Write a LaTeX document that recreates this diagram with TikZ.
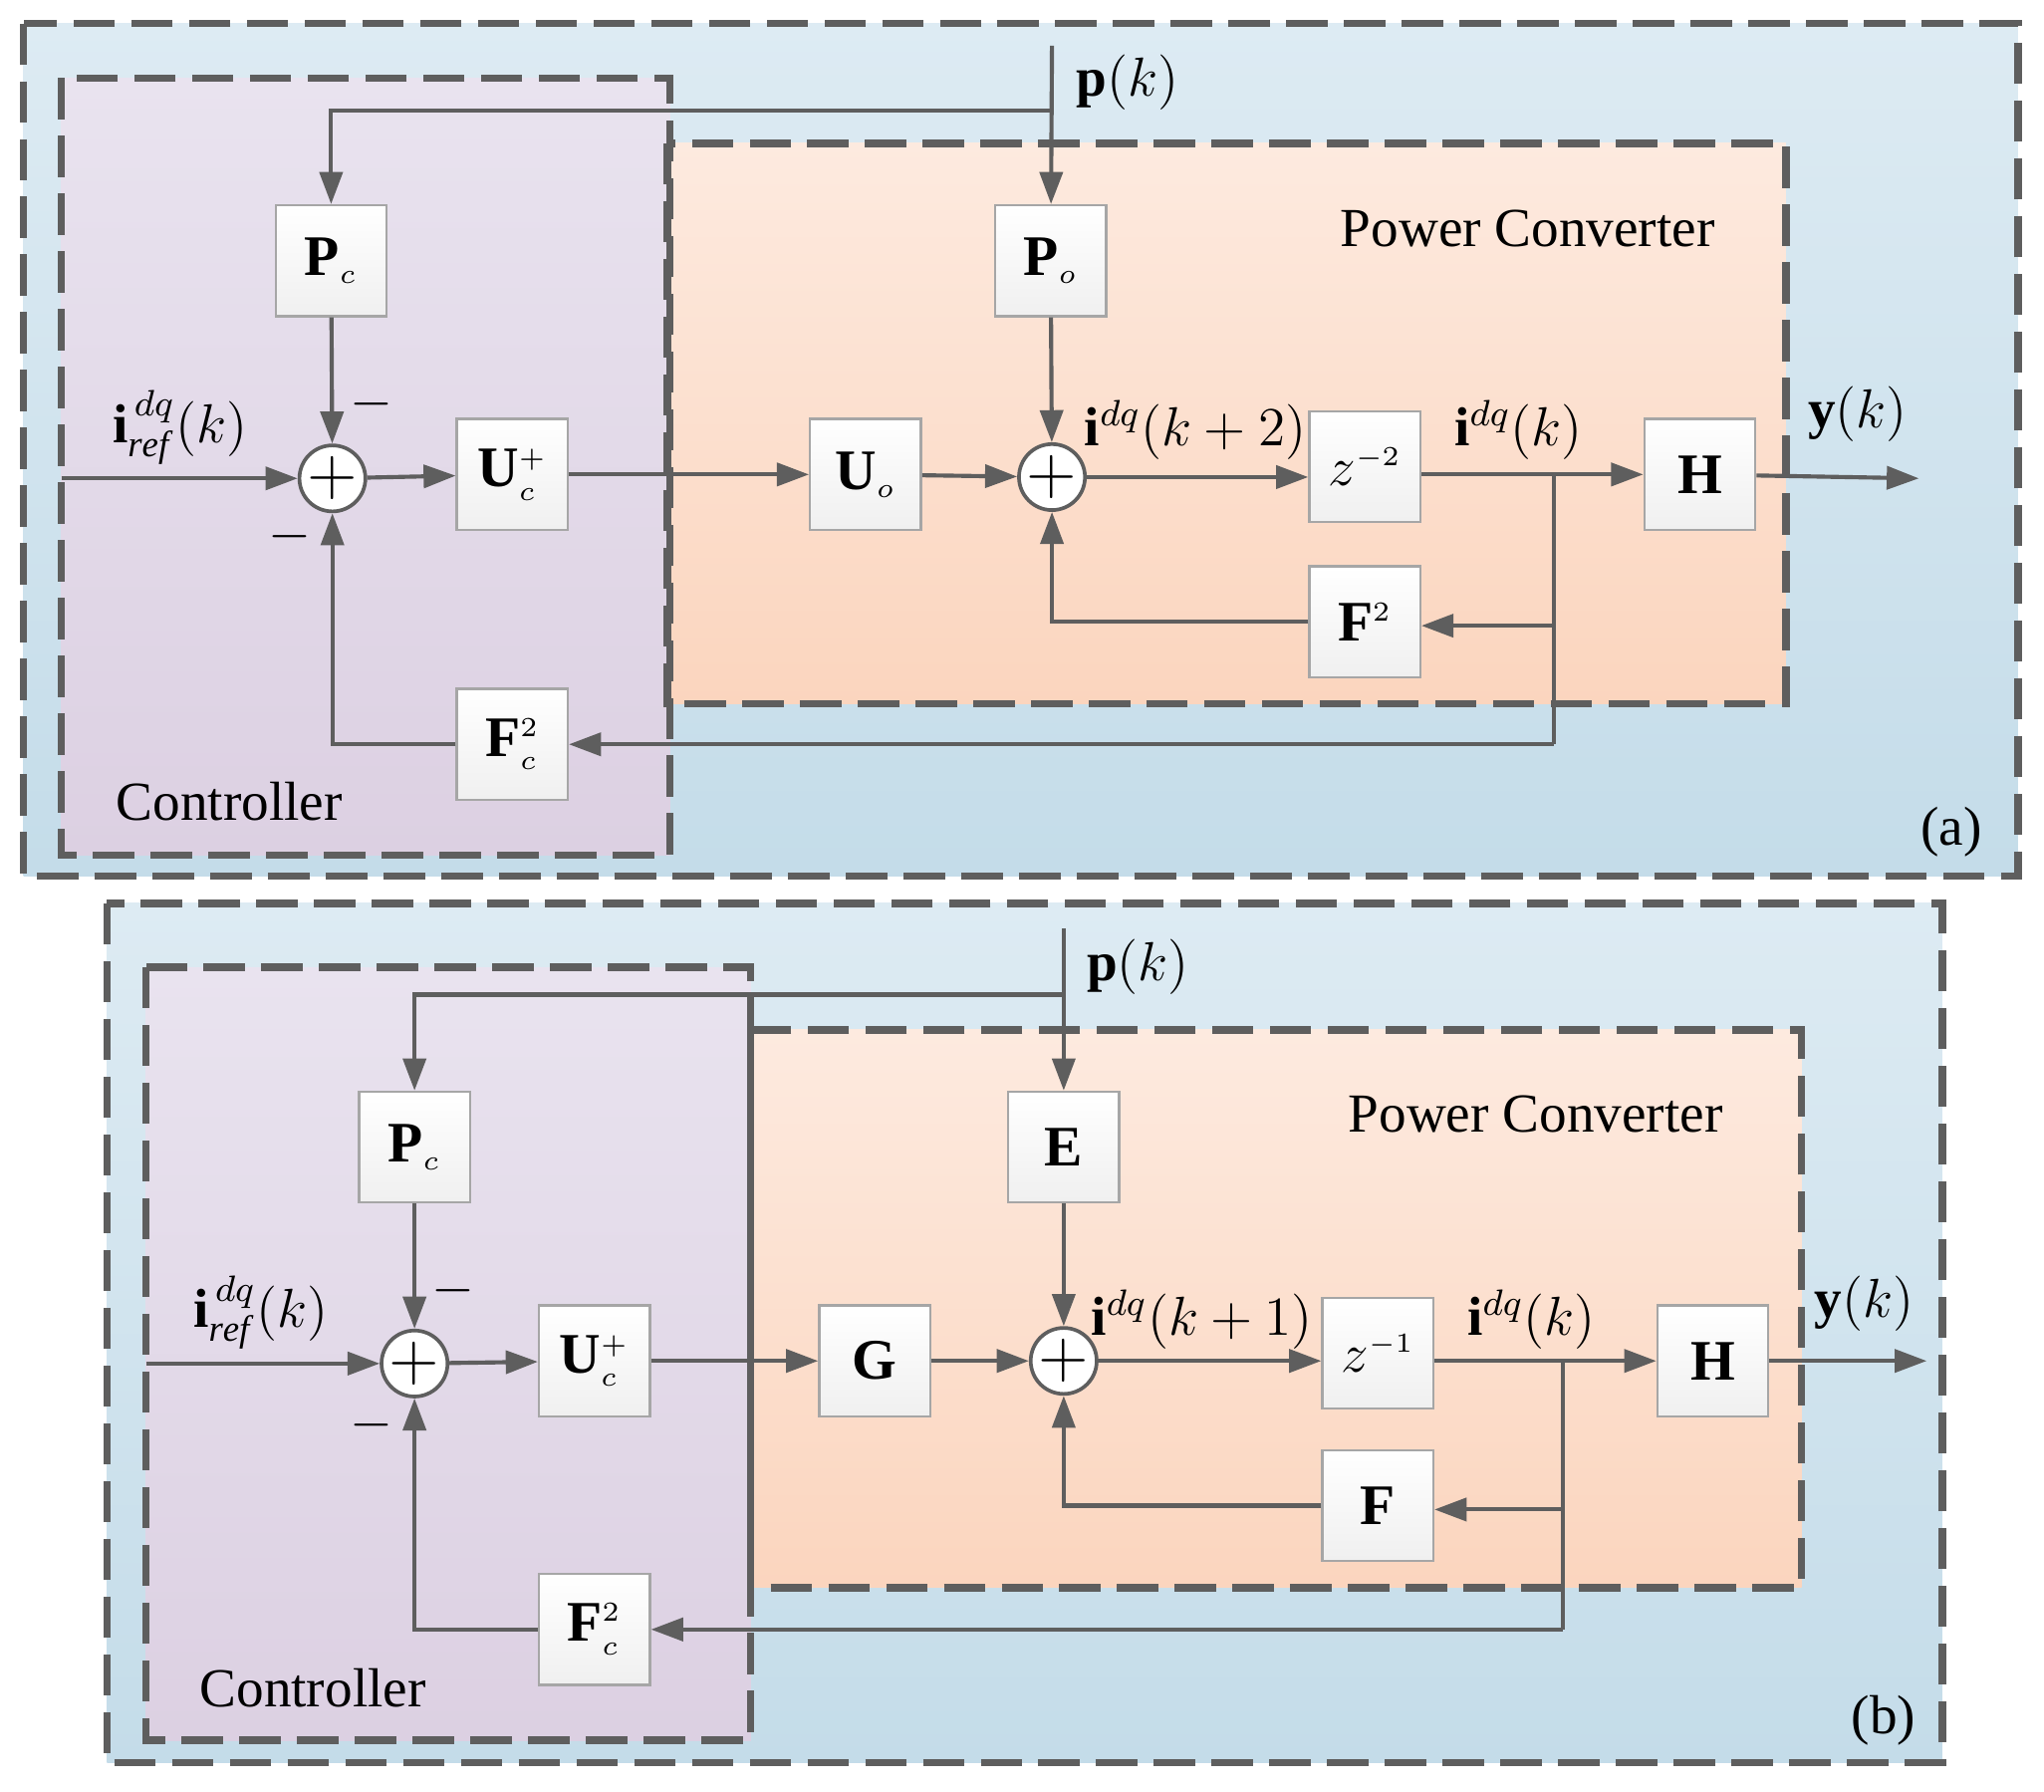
\documentclass[tikz,border=0pt]{standalone}
\usepackage{fontspec}
\setmainfont{Liberation Serif}
\usetikzlibrary{arrows.meta,calc}
\definecolor{ln}{HTML}{5E5E5E}
\definecolor{bgT}{HTML}{DDEBF3}
\definecolor{bgB}{HTML}{C4DCE9}
\definecolor{puT}{HTML}{E9E3EF}
\definecolor{puB}{HTML}{DCD0E2}
\definecolor{orT}{HTML}{FDEADF}
\definecolor{orB}{HTML}{FBD5BE}
\newcommand{\sbs}[1]{_{\scriptscriptstyle #1}}
\begin{document}
\begin{tikzpicture}[x=0.01cm,y=-0.01cm,
  ln/.style={draw=ln,line width=0.9pt},
  arr/.style={ln,-{Triangle[length=7pt,width=5pt]}},
  dsh/.style={draw=ln,line width=1.6pt,dash pattern=on 9pt off 3.6pt},
  blk/.style={draw=gray!70,line width=0.5pt,top color=white,bottom color=gray!12,minimum width=24.2pt,minimum height=24.2pt,inner sep=0pt,font=\fontsize{12.5}{12.5}\selectfont},
  sm/.style={circle,draw=ln,line width=0.8pt,fill=white,minimum size=12.5pt,inner sep=0pt,font=\fontsize{14}{14}\selectfont},
  lab/.style={font=\fontsize{12}{12}\selectfont,inner sep=0pt},
  ttl/.style={font=\fontsize{12}{12}\selectfont,inner sep=0pt}]
\useasboundingbox (0,0) rectangle (1568,1374);
% ---------- panel (a) ----------
\path[top color=bgT,bottom color=bgB] (18,18) rectangle (1548,672);
\path[top color=puT,bottom color=puB] (47,60) rectangle (514,656);
\path[top color=orT,bottom color=orB] (512,110) rectangle (1370,540);
\draw[dsh] (18,18) rectangle (1548,672);
\draw[dsh] (47,60) rectangle (514,656);
\draw[dsh] (512,110) rectangle (1370,540);
\node[blk] (aPc) at (254,200) {$\mathbf{P}\sbs{c}$};
\node[sm] (aS1) at (255,367) {$+$};
\node[blk] (aUc) at (393,364) {$\mathbf{U}\sbs{c}^{\scriptscriptstyle +}$};
\node[blk] (aUo) at (664,364) {$\mathbf{U}\sbs{o}$};
\node[sm] (aS2) at (807,366) {$+$};
\node[blk] (aPo) at (806,200) {$\mathbf{P}\sbs{o}$};
\node[blk] (aZ) at (1047,358) {$z^{\scriptscriptstyle -2}$};
\node[blk] (aH) at (1304,364) {$\mathbf{H}$};
\node[blk] (aF) at (1047,477) {$\mathbf{F}^{\scriptscriptstyle 2}$};
\node[blk] (aFc) at (393,571) {$\mathbf{F}\sbs{c}^{\scriptscriptstyle 2}$};
\coordinate (apin) at (807,35);
\coordinate (apbr) at (807,85);
\coordinate (ain) at (47,367);
\coordinate (aout) at (1472,367);
\coordinate (ajn) at (1192,364);
\draw[arr] (apin) -- (aPo);
\draw[arr] (apbr) -| (aPc);
\draw[arr] (aPc) -- (aS1);
\draw[arr] (ain) -- (aS1);
\draw[arr] (aS1) -- (aUc);
\draw[arr] (aUc) -- (aUo);
\draw[arr] (aUo) -- (aS2);
\draw[arr] (aPo) -- (aS2);
\draw[arr] (aS2) -- (aS2 -| aZ.west);
\draw[arr] (aZ.east |- ajn) -- (aH);
\draw[arr] (aH) -- (aout);
\draw[ln] (ajn) -- (1192,571);
\draw[arr] (1192,571) -- (aFc);
\draw[arr] (1192,480) -- (aF.east |- 0,480);
\draw[arr] (aF) -| (aS2);
\draw[arr] (aFc) -| (aS1);
\node[lab] at (865,63) {$\mathbf{p}(k)$};
\node[lab] at (138,328) {$\mathbf{i}_{\mathit{ref}}^{\,dq}(k)$};
\node[lab] at (917,330) {$\mathbf{i}^{dq}(k+2)$};
\node[lab] at (1165,330) {$\mathbf{i}^{dq}(k)$};
\node[lab] at (1425,318) {$\mathbf{y}(k)$};
\node[lab] at (285,310) {$-$};
\node[lab] at (222,412) {$-$};
\node[ttl] at (1172,175) {Power Converter};
\node[ttl] at (176,615) {Controller};
\node[ttl] at (1497,638) {(a)};
% ---------- panel (b) ----------
\path[top color=bgT,bottom color=bgB] (82,693) rectangle (1490,1352);
\path[top color=puT,bottom color=puB] (112,742) rectangle (576,1335);
\path[top color=orT,bottom color=orB] (576,790) rectangle (1382,1218);
\draw[dsh] (82,693) rectangle (1490,1352);
\draw[dsh] (112,742) rectangle (576,1335);
\draw[dsh] (576,790) rectangle (1382,1218);
\node[blk] (bPc) at (318,880) {$\mathbf{P}\sbs{c}$};
\node[sm] (bS1) at (318,1046) {$+$};
\node[blk] (bUc) at (456,1044) {$\mathbf{U}\sbs{c}^{\scriptscriptstyle +}$};
\node[blk] (bG) at (671,1044) {$\mathbf{G}$};
\node[sm] (bS2) at (816,1044) {$+$};
\node[blk] (bE) at (816,880) {$\mathbf{E}$};
\node[blk] (bZ) at (1057,1038) {$z^{\scriptscriptstyle -1}$};
\node[blk] (bH) at (1314,1044) {$\mathbf{H}$};
\node[blk] (bF) at (1057,1155) {$\mathbf{F}$};
\node[blk] (bFc) at (456,1250) {$\mathbf{F}\sbs{c}^{\scriptscriptstyle 2}$};
\coordinate (bpin) at (816,712);
\coordinate (bpbr) at (816,763);
\coordinate (bin) at (112,1046);
\coordinate (bout) at (1478,1044);
\coordinate (bjn) at (1199,1044);
\draw[arr] (bpin) -- (bE);
\draw[arr] (bpbr) -| (bPc);
\draw[arr] (bPc) -- (bS1);
\draw[arr] (bin) -- (bS1);
\draw[arr] (bS1) -- (bUc);
\draw[arr] (bUc) -- (bG);
\draw[arr] (bG) -- (bS2);
\draw[arr] (bE) -- (bS2);
\draw[arr] (bS2) -- (bS2 -| bZ.west);
\draw[arr] (bZ.east |- bjn) -- (bH);
\draw[arr] (bH) -- (bout);
\draw[ln] (bjn) -- (1199,1250);
\draw[arr] (1199,1250) -- (bFc);
\draw[arr] (1199,1158) -- (bF.east |- 0,1158);
\draw[arr] (bF) -| (bS2);
\draw[arr] (bFc) -| (bS1);
\node[lab] at (873,742) {$\mathbf{p}(k)$};
\node[lab] at (200,1007) {$\mathbf{i}_{\mathit{ref}}^{\,dq}(k)$};
\node[lab] at (922,1012) {$\mathbf{i}^{dq}(k+1)$};
\node[lab] at (1175,1012) {$\mathbf{i}^{dq}(k)$};
\node[lab] at (1430,1000) {$\mathbf{y}(k)$};
\node[lab] at (348,990) {$-$};
\node[lab] at (285,1093) {$-$};
\node[ttl] at (1178,855) {Power Converter};
\node[ttl] at (240,1295) {Controller};
\node[ttl] at (1445,1320) {(b)};
\end{tikzpicture}
\end{document}
